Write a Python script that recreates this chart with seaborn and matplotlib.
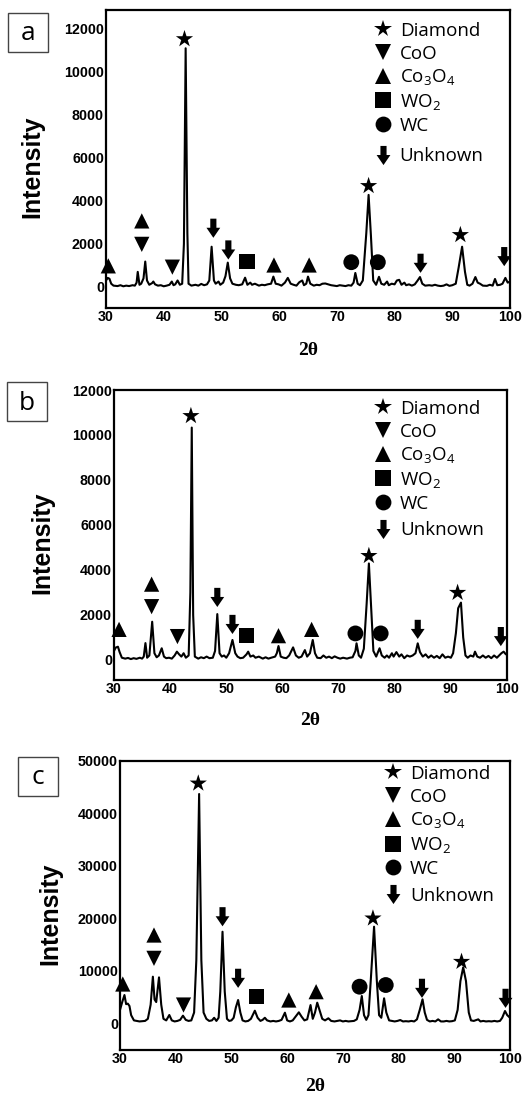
import matplotlib
matplotlib.use("Agg")
import matplotlib.pyplot as plt
import numpy as np
import pandas as pd
import seaborn as sns
from matplotlib.lines import Line2D
from matplotlib.patches import Rectangle
from matplotlib.path import Path

# --- traced XRD patterns (2theta, intensity) ---
A_THETA = [30.0, 30.3, 30.6, 30.9, 31.3, 32.0, 32.5, 33.0, 33.5, 34.0, 34.6, 35.0, 35.3, 35.5, 35.8, 36.1, 36.5,
           36.8, 37.1, 37.5, 38.0, 38.2, 38.5, 39.0, 39.5, 40.0, 40.5, 41.0, 41.4, 41.7, 42.0, 42.4, 42.8, 43.2,
           43.5, 43.8, 44.1, 44.3, 44.8, 45.5, 46.0, 46.5, 47.0, 47.5, 47.9, 48.3, 48.7, 49.0, 49.5, 49.8, 50.3,
           50.7, 51.1, 51.5, 51.9, 52.5, 53.0, 53.6, 54.1, 54.5, 55.0, 55.3, 55.8, 56.5, 57.0, 57.5, 58.0, 58.6,
           59.0, 59.4, 59.9, 60.4, 61.0, 61.5, 62.0, 62.5, 63.0, 63.5, 64.0, 64.3, 64.7, 65.0, 65.4, 66.0, 66.5,
           67.0, 67.5, 68.0, 68.5, 69.0, 69.5, 70.0, 70.5, 71.0, 71.5, 72.0, 72.5, 72.9, 73.2, 73.6, 74.0, 74.5,
           75.1, 75.5, 75.9, 76.3, 76.8, 77.3, 77.7, 78.2, 78.7, 79.0, 79.5, 80.0, 80.4, 80.8, 81.2, 81.7, 82.0,
           82.5, 83.0, 83.5, 84.0, 84.4, 84.8, 85.3, 86.0, 86.5, 87.0, 87.5, 88.0, 88.5, 89.0, 89.5, 90.0, 90.6,
           91.1, 91.7, 92.2, 92.6, 93.0, 93.5, 94.0, 94.4, 94.8, 95.3, 96.0, 96.5, 97.0, 97.4, 97.8, 98.3, 98.7,
           99.2, 99.6, 100.0]
A_INT = [300, 420, 380, 150, 60, 40, 80, 30, 60, 40, 80, 60, 200, 700, 100, 150, 400,
         1180, 300, 100, 180, 250, 120, 60, 80, 30, 60, 100, 250, 80, 120, 300, 100, 150,
         2000, 11100, 2500, 150, 60, 100, 60, 140, 80, 120, 300, 1870, 300, 150, 250, 100, 200,
         500, 1130, 400, 150, 100, 80, 120, 430, 100, 200, 100, 150, 60, 100, 80, 120, 150,
         480, 150, 120, 60, 200, 420, 150, 100, 60, 220, 300, 80, 150, 480, 150, 60, 100,
         80, 150, 160, 120, 80, 60, 40, 80, 60, 40, 80, 60, 200, 650, 150, 80, 300,
         2500, 4280, 2400, 300, 100, 470, 150, 100, 250, 80, 150, 120, 300, 330, 100, 200, 80,
         120, 60, 120, 300, 460, 150, 60, 80, 60, 100, 60, 40, 60, 120, 50, 80, 150,
         900, 1870, 700, 100, 60, 150, 460, 200, 150, 60, 50, 100, 60, 370, 80, 100, 150,
         420, 200, 250]

B_THETA = [30.0, 30.3, 30.7, 31.0, 31.4, 32.0, 32.5, 33.0, 33.5, 34.0, 34.6, 35.0, 35.3, 35.6, 35.9, 36.3, 36.8,
           37.2, 37.6, 38.0, 38.5, 38.9, 39.3, 39.8, 40.3, 40.8, 41.2, 41.6, 42.0, 42.4, 42.8, 43.3, 43.6,
           43.85, 44.1, 44.4, 45.0, 45.5, 46.0, 46.5, 47.0, 47.6, 48.0, 48.4, 48.8, 49.2, 49.6, 50.0, 50.5,
           51.1, 51.6, 52.0, 52.5, 53.0, 53.6, 53.9, 54.3, 54.8, 55.2, 55.8, 56.5, 57.0, 57.5, 58.0, 58.7,
           59.0, 59.3, 59.7, 60.2, 60.7, 61.2, 61.9, 62.4, 62.9, 63.4, 64.0, 64.4, 64.9, 65.4, 65.8, 66.2,
           66.8, 67.3, 67.8, 68.3, 68.8, 69.3, 69.8, 70.3, 70.8, 71.5, 72.0, 72.5, 73.0, 73.2, 73.6, 74.0,
           74.5, 75.0, 75.4, 75.8, 76.2, 76.7, 77.3, 77.7, 78.2, 78.6, 79.0, 79.5, 79.8, 80.3, 80.8, 81.2,
           81.7, 82.2, 82.7, 83.2, 83.7, 84.1, 84.5, 85.0, 85.5, 86.0, 86.5, 87.0, 87.5, 88.0, 88.5, 89.0,
           89.5, 90.0, 90.4, 90.9, 91.3, 91.8, 92.2, 92.6, 93.0, 93.5, 94.0, 94.3, 94.7, 95.2, 95.7, 96.2,
           96.7, 97.2, 97.7, 98.2, 98.6, 99.0, 99.4, 99.8, 100.0]
B_INT = [400, 550, 590, 350, 100, 60, 90, 40, 80, 50, 100, 60, 150, 750, 100, 200, 1700,
         300, 120, 200, 520, 150, 80, 100, 60, 200, 370, 250, 150, 300, 100, 200, 3000,
         10330, 2000, 150, 60, 120, 80, 150, 80, 100, 400, 2040, 300, 150, 200, 100, 300,
         890, 300, 150, 80, 100, 250, 370, 150, 200, 100, 150, 60, 120, 60, 100, 150,
         300, 620, 150, 100, 80, 200, 560, 200, 100, 150, 440, 150, 300, 890, 300, 100,
         80, 200, 100, 150, 80, 160, 100, 60, 100, 60, 100, 120, 400, 740, 200, 100,
         500, 2500, 4290, 2300, 400, 150, 520, 200, 100, 200, 100, 300, 150, 350, 150, 250,
         80, 200, 150, 200, 300, 740, 350, 150, 250, 100, 200, 100, 180, 80, 250, 100,
         150, 100, 300, 1200, 2300, 2550, 1000, 200, 100, 200, 150, 370, 150, 100, 200, 100,
         180, 80, 200, 100, 200, 300, 370, 250, 300]

C_THETA = [30.0, 30.4, 30.8, 31.1, 31.4, 31.7, 32.0, 32.5, 33.0, 33.5, 34.0, 34.5, 35.0, 35.5, 35.9, 36.2, 36.5,
           37.0, 37.4, 37.8, 38.3, 38.85, 39.3, 39.8, 40.3, 40.8, 41.3, 41.8, 42.3, 42.8, 43.3, 43.7, 44.2,
           44.6, 45.0, 45.5, 46.0, 46.5, 46.9, 47.3, 47.7, 48.0, 48.4, 48.8, 49.2, 49.6, 50.0, 50.4, 50.8,
           51.2, 51.6, 52.0, 52.5, 53.0, 53.5, 54.2, 54.7, 55.2, 55.6, 56.0, 56.4, 57.0, 57.5, 58.0, 58.5,
           59.0, 59.6, 60.0, 60.5, 61.0, 61.5, 62.1, 62.6, 63.1, 63.6, 64.2, 64.6, 65.0, 65.4, 65.8, 66.3,
           66.8, 67.4, 67.9, 68.5, 69.0, 69.5, 70.0, 70.5, 71.0, 71.5, 72.0, 72.5, 73.0, 73.4, 73.8, 74.2,
           74.6, 75.0, 75.6, 76.1, 76.5, 76.9, 77.4, 77.8, 78.3, 78.8, 79.3, 79.8, 80.3, 80.8, 81.3, 81.8,
           82.3, 82.8, 83.3, 83.8, 84.3, 84.7, 85.1, 85.6, 86.1, 86.6, 87.1, 87.6, 88.1, 88.6, 89.1, 89.6,
           90.1, 90.6, 91.1, 91.6, 92.1, 92.6, 93.0, 93.5, 94.0, 94.3, 94.7, 95.2, 95.7, 96.2, 96.7, 97.2,
           97.7, 98.2, 98.6, 99.1, 99.5, 100.0]
C_INT = [2500, 4000, 5340, 3600, 3700, 3240, 1500, 500, 400, 300, 350, 400, 800, 3500, 8840, 4500, 4000,
         8710, 3500, 800, 500, 1530, 500, 300, 400, 600, 1400, 600, 400, 500, 2000, 12000, 43700,
         12000, 2000, 800, 400, 500, 1000, 400, 1000, 6000, 17420, 6000, 800, 400, 500, 1000, 3000,
         4390, 2000, 500, 300, 400, 800, 2350, 1000, 400, 600, 1000, 500, 300, 400, 300, 400,
         600, 1970, 500, 300, 500, 1200, 2040, 1200, 500, 700, 3430, 800, 2000, 3880, 2500, 800,
         500, 900, 400, 300, 400, 500, 300, 400, 300, 350, 400, 700, 2500, 5150, 1500, 600,
         1500, 8000, 18380, 8000, 1500, 1000, 4710, 2000, 500, 400, 300, 400, 570, 300, 350, 300,
         400, 300, 700, 2500, 4520, 2000, 600, 300, 400, 300, 700, 300, 300, 400, 300, 350,
         500, 2500, 8000, 10630, 8000, 2000, 500, 400, 600, 700, 300, 400, 300, 350, 300, 400,
         300, 400, 1000, 2290, 1500, 1000]

# --- phase markers (phase, 2theta, height) ---
A_MARK_PHASE = ["Diamond", "Diamond", "Diamond", "CoO", "CoO", "Co3O4", "Co3O4", "Co3O4", "Co3O4",
                "WO2", "WC", "WC", "Unknown", "Unknown", "Unknown", "Unknown"]
A_MARK_THETA = [43.6, 75.5, 91.4, 36.2, 41.5, 30.4, 36.2, 59.1, 65.2, 54.4, 72.5, 77.1, 48.6, 51.2, 84.5, 99.0]
A_MARK_INT = [11530, 4700, 2420, 1980, 920, 980, 3070, 1020, 1020, 1180, 1150, 1150, 2730, 1720, 1100, 1410]

B_MARK_PHASE = A_MARK_PHASE
B_MARK_THETA = [43.7, 75.4, 91.2, 36.7, 41.3, 30.9, 36.7, 59.3, 65.2, 53.6, 73.0, 77.5, 48.4, 51.1, 84.1, 98.9]
B_MARK_INT = [10850, 4630, 2990, 2370, 1040, 1360, 3370, 1080, 1360, 1080, 1180, 1180, 2780, 1580, 1360, 1040]

C_MARK_PHASE = A_MARK_PHASE
C_MARK_THETA = [44.05, 75.4, 91.3, 36.1, 41.4, 30.5, 36.1, 60.3, 65.2, 54.5, 73.0, 77.7, 48.4, 51.2, 84.2, 99.2]
C_MARK_INT = [45730, 19980, 11700, 12340, 3430, 7440, 16790, 4390, 5980, 5020, 6930, 7250, 20280, 8530, 6620, 4710]

PHASES = ["Diamond", "CoO", "Co3O4", "WO2", "WC", "Unknown"]
PHASE_LABELS = ["Diamond", "CoO", "Co$_3$O$_4$", "WO$_2$", "WC", "Unknown"]

# thick down arrow marker
ARROW = Path([(-0.32, 1.0), (0.32, 1.0), (0.32, 0.05), (0.72, 0.05), (0.0, -1.0),
              (-0.72, 0.05), (-0.32, 0.05), (-0.32, 1.0)],
             [Path.MOVETO] + [Path.LINETO] * 6 + [Path.CLOSEPOLY])
MARKERS = {"Diamond": "*", "CoO": "v", "Co3O4": "^", "WO2": "s", "WC": "o", "Unknown": ARROW}
SIZES = {"Diamond": 170, "CoO": 120, "Co3O4": 120, "WO2": 125, "WC": 130, "Unknown": 190}

sns.set_theme(style="white")
plt.rcParams["font.family"] = ["Liberation Sans", "DejaVu Sans"]
plt.rcParams["mathtext.default"] = "regular"
for key in ["text.color", "axes.labelcolor", "xtick.color", "ytick.color"]:
    plt.rcParams[key] = "black"

fig = plt.figure(figsize=(5.28, 11), dpi=100)

panels = [
    dict(name="a", theta=A_THETA, inten=A_INT, mph=A_MARK_PHASE, mth=A_MARK_THETA, mi=A_MARK_INT,
         rect=[106 / 528, 1 - 308 / 1100, 404 / 528, 298 / 1100], ylim=(-980, 12880),
         yticks=range(0, 12001, 2000), box=(8, 13), ylab=(-0.183, 0.473), xlab=-0.141,
         leg=(0.662, 0.960), leg2=0.540),
    dict(name="b", theta=B_THETA, inten=B_INT, mph=B_MARK_PHASE, mth=B_MARK_THETA, mi=B_MARK_INT,
         rect=[114 / 528, 1 - 680 / 1100, 393 / 528, 290 / 1100], ylim=(-890, 12000),
         yticks=range(0, 12001, 2000), box=(7, 382), ylab=(-0.183, 0.472), xlab=-0.138,
         leg=(0.661, 0.966), leg2=0.548),
    dict(name="c", theta=C_THETA, inten=C_INT, mph=C_MARK_PHASE, mth=C_MARK_THETA, mi=C_MARK_INT,
         rect=[120 / 528, 1 - 1050 / 1100, 390 / 528, 289 / 1100], ylim=(-5150, 50000),
         yticks=range(0, 50001, 10000), box=(18, 757), ylab=(-0.179, 0.472), xlab=-0.128,
         leg=(0.676, 0.986), leg2=0.564),
]

legend_kw = dict(loc="upper left", frameon=False, borderpad=0, borderaxespad=0, handlelength=1.0,
                 handletextpad=0.4, labelspacing=0.25,
                 prop={"family": "Open Sans", "size": 13.5, "weight": "medium"})

for p in panels:
    ax = fig.add_axes(p["rect"])
    curve = pd.DataFrame({"theta": p["theta"], "intensity": p["inten"]})
    sns.lineplot(data=curve, x="theta", y="intensity", ax=ax, color="black", lw=1.5, estimator=None)

    marks = pd.DataFrame({"phase": p["mph"], "theta": p["mth"], "intensity": p["mi"]})
    for phase in PHASES:
        sub = marks[marks["phase"] == phase]
        sns.scatterplot(data=sub, x="theta", y="intensity", ax=ax, marker=MARKERS[phase],
                        s=SIZES[phase], color="black", edgecolor="none", linewidth=0,
                        legend=False, clip_on=False, zorder=5)

    ax.set_xlim(30, 100)
    ax.set_ylim(*p["ylim"])
    ax.set_xticks(range(30, 101, 10))
    ax.set_yticks(list(p["yticks"]))
    ax.tick_params(length=0, pad=1.5, labelsize=10.3)
    for lab in ax.get_xticklabels() + ax.get_yticklabels():
        lab.set_fontweight("bold")
    for sp in ax.spines.values():
        sp.set_color("black")
        sp.set_linewidth(1.6)

    ax.set_ylabel("Intensity", fontsize=18, fontweight="bold")
    ax.yaxis.label.set_va("center")
    ax.yaxis.set_label_coords(*p["ylab"])
    ax.set_xlabel("2θ", fontsize=14, fontweight="bold", family=["Liberation Serif"])
    ax.xaxis.label.set_va("center")
    ax.xaxis.set_label_coords(0.5, p["xlab"])

    handles = [Line2D([], [], ls="none", marker=MARKERS[ph], color="black", markeredgewidth=0,
                      markersize=np.sqrt(SIZES[ph])) for ph in PHASES]
    first = ax.legend(handles[:5], PHASE_LABELS[:5], bbox_to_anchor=p["leg"], **legend_kw)
    ax.add_artist(first)
    ax.legend(handles[5:], PHASE_LABELS[5:], bbox_to_anchor=(p["leg"][0], p["leg2"]), **legend_kw)

    bx, by = p["box"]
    fig.add_artist(Rectangle((bx / 528, 1 - (by + 39) / 1100), 40 / 528, 39 / 1100,
                             transform=fig.transFigure, fill=False, edgecolor="#444444", lw=1))
    fig.text((bx + 20) / 528, 1 - (by + 21) / 1100, p["name"], ha="center", va="center",
             fontsize=19, family="Open Sans")

fig.savefig("out.png", dpi=100)
